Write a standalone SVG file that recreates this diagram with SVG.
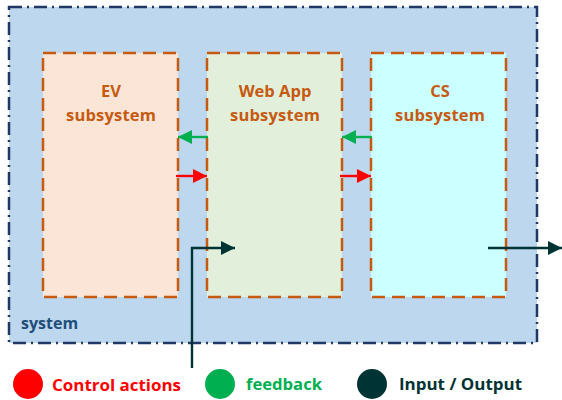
<svg xmlns="http://www.w3.org/2000/svg" width="562" height="400" viewBox="0 0 562 400">
<style>
.sub{stroke:#c55a11;stroke-width:2.5;stroke-dasharray:13 7}
.t{font-family:"Open Sans","Liberation Sans",sans-serif;font-weight:bold;font-size:16.5px;fill:#c55a11;text-anchor:middle}
.lg{font-family:"Open Sans","Liberation Sans",sans-serif;font-weight:bold;font-size:16px}
</style>
<defs>
<marker id="ar" viewBox="0 0 10 10" refX="10" refY="5" markerWidth="6" markerHeight="6" orient="auto" markerUnits="strokeWidth"><path d="M0,0L10,5L0,10z" fill="#ff0000"/></marker>
<marker id="ag" viewBox="0 0 10 10" refX="10" refY="5" markerWidth="6" markerHeight="6" orient="auto" markerUnits="strokeWidth"><path d="M0,0L10,5L0,10z" fill="#00b050"/></marker>
<marker id="ak" viewBox="0 0 10 10" refX="10" refY="5" markerWidth="6" markerHeight="6" orient="auto" markerUnits="strokeWidth"><path d="M0,0L10,5L0,10z" fill="#003333"/></marker>
</defs>
<g id="system">
<rect x="9" y="7" width="528" height="336" fill="#bdd7ee" stroke="#1f3864" stroke-width="2.5" stroke-dasharray="13 5 2 5"/>
<text x="21" y="329" class="lg" fill="#1f4e79">system</text>
</g>
<g id="ev">
<rect x="43" y="53" width="135" height="244" fill="#fbe5d6" class="sub"/>
<text x="111" y="97" class="t">EV</text>
<text x="111" y="121" class="t" textLength="90">subsystem</text>
</g>
<g id="webapp">
<rect x="207" y="53" width="135" height="244" fill="#e2efda" class="sub"/>
<text x="275" y="97" class="t">Web App</text>
<text x="275" y="121" class="t" textLength="90">subsystem</text>
</g>
<g id="cs">
<rect x="371" y="53" width="135" height="244" fill="#ccffff" class="sub"/>
<text x="440" y="97" class="t">CS</text>
<text x="440" y="121" class="t" textLength="90">subsystem</text>
</g>
<g id="connectors" fill="none" stroke-width="2.4">
<line x1="208" y1="137" x2="178" y2="137" stroke="#00b050" marker-end="url(#ag)"/>
<line x1="372" y1="137" x2="342" y2="137" stroke="#00b050" marker-end="url(#ag)"/>
<line x1="176" y1="176" x2="207" y2="176" stroke="#ff0000" marker-end="url(#ar)"/>
<line x1="340" y1="176" x2="371" y2="176" stroke="#ff0000" marker-end="url(#ar)"/>
<polyline points="192,368 192,248 235,248" stroke="#003333" marker-end="url(#ak)"/>
<line x1="488" y1="248" x2="562" y2="248" stroke="#003333" marker-end="url(#ak)"/>
</g>
<g id="legend">
<circle cx="28" cy="384" r="15" fill="#ff0000"/>
<text x="52" y="391" class="lg" fill="#ff0000" textLength="129" lengthAdjust="spacingAndGlyphs">Control actions</text>
<circle cx="220" cy="384" r="15" fill="#00b050"/>
<text x="246" y="390" class="lg" fill="#00b050" textLength="76" lengthAdjust="spacingAndGlyphs">feedback</text>
<circle cx="372" cy="384" r="15" fill="#003333"/>
<text x="399" y="390" class="lg" fill="#003333" textLength="123" lengthAdjust="spacingAndGlyphs">Input / Output</text>
</g>
</svg>
